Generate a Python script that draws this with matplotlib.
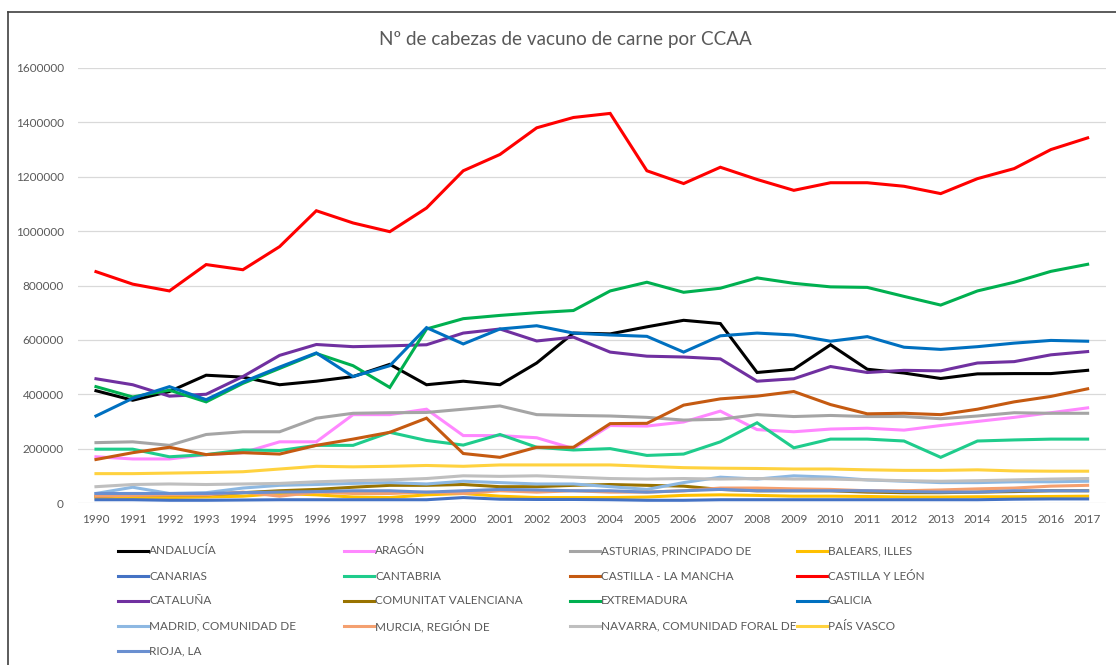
import matplotlib
matplotlib.use("Agg")
import matplotlib.pyplot as plt
from matplotlib.lines import Line2D

plt.rcParams['font.family'] = ['Lato', 'DejaVu Sans']

years = list(range(1990, 2018))

andalucia = [413000, 378000, 410000, 470000, 463000, 435000, 448000, 465000, 510000, 435000,
             448000, 435000, 515000, 625000, 622000, 648000, 672000, 660000, 480000, 492000,
             582000, 492000, 478000, 458000, 475000, 476000, 476000, 488000]
aragon = [170000, 162000, 162000, 178000, 185000, 225000, 225000, 325000, 325000, 345000,
          248000, 248000, 240000, 200000, 285000, 283000, 298000, 338000, 270000, 262000,
          272000, 275000, 268000, 285000, 300000, 315000, 332000, 350000]
asturias = [222000, 225000, 212000, 252000, 262000, 262000, 312000, 330000, 332000, 333000,
            345000, 357000, 325000, 322000, 320000, 315000, 305000, 308000, 325000, 318000,
            322000, 318000, 318000, 310000, 320000, 332000, 330000, 330000]
baleares = [18000, 20000, 20000, 22000, 25000, 35000, 30000, 22000, 20000, 30000,
            35000, 25000, 20000, 20000, 20000, 22000, 28000, 30000, 28000, 25000,
            25000, 24000, 22000, 22000, 23000, 23000, 24000, 25000]
canarias = [12000, 12000, 10000, 10000, 11000, 12000, 12000, 12000, 12000, 12000,
            20000, 14000, 13000, 13000, 12000, 10000, 10000, 12000, 12000, 12000,
            12000, 12000, 12000, 12000, 12000, 14000, 15000, 15000]
cantabria = [198000, 198000, 170000, 178000, 195000, 193000, 212000, 212000, 260000, 230000,
             213000, 252000, 205000, 195000, 200000, 175000, 180000, 225000, 295000, 203000,
             235000, 235000, 228000, 168000, 228000, 232000, 235000, 235000]
castilla_mancha = [160000, 185000, 205000, 178000, 185000, 180000, 212000, 235000, 260000, 312000,
                   182000, 168000, 205000, 205000, 292000, 293000, 360000, 383000, 393000, 410000,
                   362000, 328000, 330000, 325000, 345000, 372000, 392000, 420000]
castilla_leon = [851000, 805000, 780000, 877000, 858000, 943000, 1075000, 1030000, 998000, 1085000,
                 1222000, 1282000, 1380000, 1418000, 1433000, 1222000, 1175000, 1235000, 1190000, 1150000,
                 1178000, 1178000, 1165000, 1138000, 1193000, 1230000, 1300000, 1343000]
cataluna = [457000, 435000, 393000, 400000, 465000, 543000, 583000, 575000, 578000, 582000,
            625000, 640000, 596000, 610000, 555000, 540000, 537000, 530000, 448000, 457000,
            502000, 480000, 488000, 486000, 515000, 520000, 545000, 557000]
valenciana = [25000, 30000, 30000, 30000, 38000, 45000, 50000, 58000, 65000, 65000,
              68000, 60000, 60000, 65000, 68000, 65000, 62000, 50000, 45000, 45000,
              45000, 40000, 38000, 38000, 40000, 42000, 45000, 45000]
extremadura = [428000, 390000, 415000, 372000, 440000, 495000, 550000, 505000, 425000, 640000,
               678000, 690000, 700000, 708000, 780000, 812000, 775000, 790000, 828000, 808000,
               795000, 793000, 760000, 728000, 780000, 812000, 852000, 878000]
galicia = [320000, 385000, 428000, 380000, 445000, 500000, 552000, 465000, 505000, 645000,
           585000, 640000, 652000, 625000, 618000, 613000, 555000, 615000, 625000, 618000,
           595000, 612000, 573000, 565000, 575000, 588000, 598000, 595000]
madrid = [35000, 58000, 35000, 38000, 55000, 65000, 68000, 72000, 75000, 70000,
          80000, 75000, 70000, 70000, 60000, 50000, 75000, 95000, 88000, 100000,
          95000, 85000, 80000, 75000, 75000, 78000, 78000, 80000]
murcia = [25000, 28000, 30000, 30000, 40000, 25000, 40000, 35000, 35000, 40000,
          35000, 45000, 40000, 45000, 40000, 40000, 45000, 55000, 55000, 52000,
          50000, 45000, 45000, 48000, 52000, 55000, 62000, 65000]
navarra = [60000, 68000, 70000, 68000, 70000, 72000, 78000, 82000, 85000, 90000,
           100000, 98000, 100000, 95000, 90000, 88000, 90000, 88000, 90000, 88000,
           88000, 85000, 82000, 80000, 82000, 85000, 88000, 90000]
pais_vasco = [108000, 108000, 110000, 112000, 115000, 125000, 135000, 133000, 135000, 138000,
              135000, 140000, 140000, 140000, 140000, 135000, 130000, 128000, 127000, 125000,
              125000, 122000, 120000, 120000, 122000, 118000, 117000, 117000]
rioja = [35000, 35000, 35000, 35000, 38000, 40000, 42000, 45000, 45000, 40000,
         45000, 50000, 48000, 45000, 45000, 40000, 45000, 50000, 45000, 45000,
         45000, 45000, 42000, 40000, 40000, 45000, 45000, 45000]

labels = ['ANDALUCÍA', 'ARAGÓN', 'ASTURIAS, PRINCIPADO DE', 'BALEARS, ILLES',
          'CANARIAS', 'CANTABRIA', 'CASTILLA - LA MANCHA', 'CASTILLA Y LEÓN',
          'CATALUÑA', 'COMUNITAT VALENCIANA', 'EXTREMADURA', 'GALICIA',
          'MADRID, COMUNIDAD DE', 'MURCIA, REGIÓN DE', 'NAVARRA, COMUNIDAD FORAL DE', 'PAÍS VASCO',
          'RIOJA, LA']
series = [andalucia, aragon, asturias, baleares, canarias, cantabria, castilla_mancha,
          castilla_leon, cataluna, valenciana, extremadura, galicia, madrid, murcia,
          navarra, pais_vasco, rioja]
colors = ['#000000', '#FF88FF', '#A5A5A5', '#FFC000',
          '#4472C4', '#1FCC8C', '#C55A11', '#FF0000',
          '#7030A0', '#997300', '#00B050', '#0070C0',
          '#8DB8E2', '#F4A070', '#BFBFBF', '#FFD23F',
          '#6A8FD0']

W, H = 1116, 665
fig = plt.figure(figsize=(W / 100, H / 100), dpi=100)
ax = fig.add_axes([77.6 / W, 162 / H, 1028.4 / W, 435 / H])

for vals, col, lab in zip(series, colors, labels):
    ax.plot(years, vals, color=col, lw=2.2, label=lab, solid_joinstyle='miter')

ax.set_xlim(1989.5, 2017.5)
ax.set_ylim(0, 1600000)
ax.set_xticks(years)
ax.set_xticklabels([str(y) for y in years])
ax.set_yticks(range(0, 1600001, 200000))
ax.set_yticklabels([str(v) for v in range(0, 1600001, 200000)])
ax.tick_params(axis='both', length=0, labelsize=8.5, labelcolor='#595959')
ax.tick_params(axis='y', pad=10)
ax.tick_params(axis='x', pad=8)
ax.grid(axis='y', color='#D9D9D9', lw=0.9)
ax.set_axisbelow(True)
for s in ax.spines.values():
    s.set_visible(False)

fig.text(565 / W, 1 - 40 / H, 'Nº de cabezas de vacuno de carne por CCAA',
         ha='center', va='center', fontsize=13.6, color='#595959')

# legend laid out row by row, 4 columns
col_x = [118, 344, 570, 797]
row_y = [551, 576, 601, 626, 651]
for i, (lab, col) in enumerate(zip(labels, colors)):
    r, c = divmod(i, 4)
    x0 = col_x[c]
    y = 1 - row_y[r] / H
    fig.add_artist(Line2D([x0 / W, (x0 + 30) / W], [y, y], color=col, lw=2.2))
    fig.text((x0 + 31) / W, y, lab, ha='left', va='center', fontsize=8.5,
             color='#595959')

# frame edges of the screenshot
fig.add_artist(Line2D([8 / W, 1.0], [1 - 12 / H, 1 - 12 / H], color='#404040', lw=1.2))
fig.add_artist(Line2D([8 / W, 8 / W], [0, 1 - 12 / H], color='#404040', lw=1.2))

fig.savefig('out.png', dpi=100)
